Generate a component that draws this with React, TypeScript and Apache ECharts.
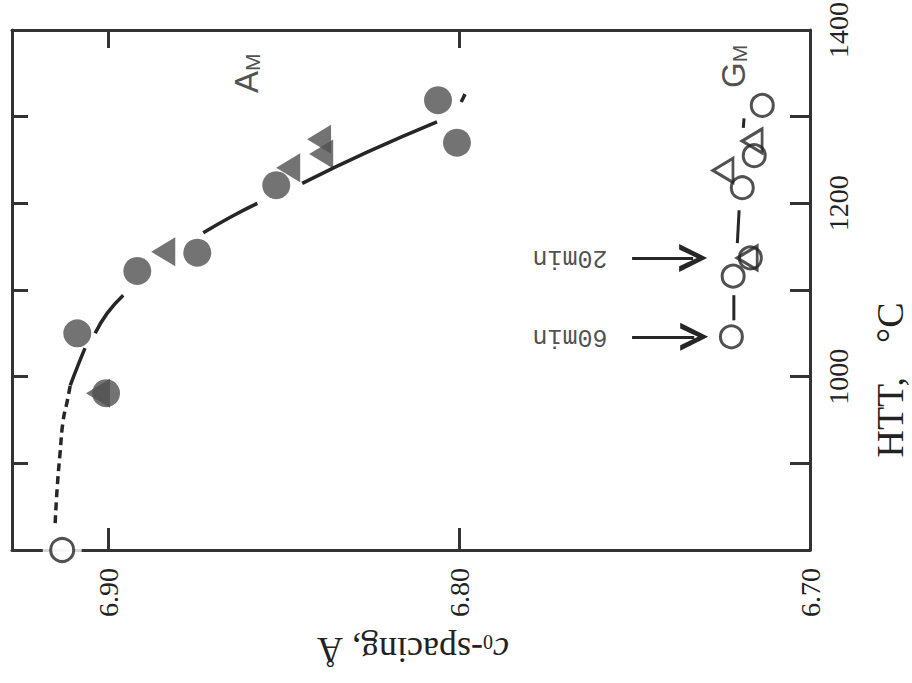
import React, { useEffect, useRef } from 'react';
import * as echarts from 'echarts';

// c0-spacing (Å) of the carbon samples against heat-treatment temperature (°C).
// AM: filled markers, GM: open markers.
const amCircleC0 = [6.9006, 6.9088, 6.8917, 6.8746, 6.8521, 6.8006, 6.806];
const amCircleHTT = [981, 1050, 1122, 1143, 1221, 1270, 1319];

const amTriangleC0 = [6.9029, 6.8843, 6.8487, 6.8399, 6.8393];
const amTriangleHTT = [981, 1144, 1241, 1274, 1257];

const startC0 = [6.9131];
const startHTT = [800];

const gmCircleC0 = [6.7224, 6.7219, 6.717, 6.7193, 6.7159, 6.7136];
const gmCircleHTT = [1046, 1116, 1137, 1218, 1255, 1313];

const gmTriangleC0 = [6.7179, 6.7248, 6.7165];
const gmTriangleHTT = [1137, 1238, 1272];

// hand-drawn trend lines through the AM and GM points
const amFitDashed = [
  [6.9151, 831], [6.9145, 873], [6.9137, 912], [6.9128, 950], [6.9117, 971], [6.9108, 990],
];
const amFitSolid = [
  [[6.9108, 990], [6.9086, 1013], [6.9066, 1033]],
  [[6.9037, 1050], [6.9003, 1073], [6.8957, 1094]],
  [[6.8729, 1166], [6.8652, 1184], [6.8575, 1200]],
  [[6.8447, 1223], [6.8262, 1259], [6.8063, 1294]],
  [[6.7994, 1317], [6.7983, 1326]],
];
const gmLinks = [
  [[6.7217, 1065], [6.7217, 1094]],
  [[6.7207, 1154], [6.7202, 1192]],
  [[6.719, 1287], [6.7188, 1298]],
];

// soak-time notes with their arrows
const noteText = ['60min', '20min'];
const noteC0 = [6.7684, 6.7684];
const noteHTT = [1046, 1137];
const arrowFromC0 = [6.7507, 6.7507];
const arrowToC0 = [6.733, 6.7333];

// group labels
const groupText = ['AM', 'GM'];
const groupC0 = [6.8604, 6.7216];
const groupHTT = [1350, 1358];

// axis ticks
const c0Labels = [6.7, 6.8, 6.9];
const c0Ticks = [6.8, 6.9];
const httLabels = [1000, 1200, 1400];
const httTicks = [900, 1000, 1100, 1200, 1300];

const INK = '#262626';
const FILL = '#505050';
const SERIF = 'Liberation Serif';
const SANS = 'Liberation Sans';

const pairs = (xs: number[], ys: number[]) => xs.map((x, i) => [x, ys[i]]);

export default function App() {
  const ref = useRef<HTMLDivElement>(null);

  useEffect(() => {
    if (!ref.current) return;
    const chart = echarts.init(ref.current, null, { renderer: 'svg' });

    const xBase = {
      type: 'value',
      min: 6.7,
      max: 6.9274,
      inverse: true,
      splitLine: { show: false },
      axisLine: { show: true, lineStyle: { color: '#333', width: 3 } },
    };
    const yBase = {
      type: 'value',
      min: 800,
      max: 1400,
      interval: 100,
      splitLine: { show: false },
      axisLine: { show: true, lineStyle: { color: '#333', width: 3 } },
    };

    const lineSeries: any[] = [];
    lineSeries.push({
      type: 'line',
      data: amFitDashed,
      showSymbol: false,
      smooth: true,
      silent: true,
      lineStyle: { color: INK, width: 3.5, type: [8, 5] },
    });
    amFitSolid.forEach((seg) =>
      lineSeries.push({
        type: 'line',
        data: seg,
        showSymbol: false,
        smooth: true,
        silent: true,
        lineStyle: { color: INK, width: 3.5 },
      })
    );
    gmLinks.forEach((seg) =>
      lineSeries.push({
        type: 'line',
        data: seg,
        showSymbol: false,
        silent: true,
        lineStyle: { color: INK, width: 3 },
      })
    );

    const chevron = 'path://M0,30 L15,0 L30,30 L24,30 L15,11 L6,30 Z';

    chart.setOption({
      animation: false,
      backgroundColor: '#fff',
      grid: { left: 12, right: 102, top: 30, bottom: 133, containLabel: false, outerBoundsMode: 'none' },
      xAxis: [
        {
          ...xBase,
          position: 'bottom',
          axisTick: { show: true, inside: true, length: 22, customValues: c0Ticks, lineStyle: { color: '#333', width: 3 } },
          axisLabel: {
            show: true,
            customValues: c0Labels,
            rotate: 90,
            margin: 18,
            color: '#222',
            fontFamily: SERIF,
            fontSize: 28,
            formatter: (v: number) => v.toFixed(2),
          },
        },
        {
          ...xBase,
          position: 'top',
          axisTick: { show: true, inside: true, length: 18, customValues: c0Ticks, lineStyle: { color: '#333', width: 3 } },
          axisLabel: { show: false },
        },
      ],
      yAxis: [
        {
          ...yBase,
          position: 'left',
          axisTick: { show: true, inside: true, length: 16, customValues: httTicks, lineStyle: { color: '#333', width: 3 } },
          axisLabel: { show: false },
        },
        {
          ...yBase,
          position: 'right',
          axisTick: { show: true, inside: true, length: 20, customValues: httTicks, lineStyle: { color: '#333', width: 3 } },
          axisLabel: {
            show: true,
            customValues: httLabels,
            rotate: 90,
            margin: 14,
            color: '#222',
            fontFamily: SERIF,
            fontSize: 28,
            formatter: (v: number) => String(v),
          },
        },
      ],
      series: [
        ...lineSeries,
        {
          // white halo where the first point sits on the axis
          type: 'scatter',
          data: pairs(startC0, startHTT),
          symbol: 'circle',
          symbolSize: 39,
          silent: true,
          clip: false,
          itemStyle: { color: '#fff' },
        },
        {
          type: 'scatter',
          name: 'start',
          data: pairs(startC0, startHTT),
          symbol: 'circle',
          symbolSize: 23,
          clip: false,
          itemStyle: { color: '#fff', borderColor: INK, borderWidth: 3 },
        },
        {
          type: 'scatter',
          name: 'AM triangles',
          data: pairs(amTriangleC0, amTriangleHTT),
          symbol: 'triangle',
          symbolRotate: 90,
          symbolSize: [29, 24],
          itemStyle: { color: FILL },
        },
        {
          type: 'scatter',
          name: 'AM circles',
          data: pairs(amCircleC0, amCircleHTT),
          symbol: 'circle',
          symbolSize: 28,
          itemStyle: { color: FILL },
        },
        {
          type: 'scatter',
          name: 'GM circles',
          data: pairs(gmCircleC0, gmCircleHTT),
          symbol: 'circle',
          symbolSize: 22,
          itemStyle: { color: '#fff', borderColor: INK, borderWidth: 3 },
        },
        {
          type: 'scatter',
          name: 'GM triangles',
          data: pairs(gmTriangleC0, gmTriangleHTT),
          symbol: 'triangle',
          symbolRotate: 90,
          symbolSize: [24, 20],
          itemStyle: { color: 'rgba(255,255,255,0)', borderColor: INK, borderWidth: 3 },
        },
        {
          type: 'scatter',
          name: 'notes',
          data: noteText.map((t, i) => ({ name: t, value: [noteC0[i], noteHTT[i]] })),
          symbolSize: 0,
          silent: true,
          label: {
            show: true,
            position: 'inside',
            rotate: 180,
            formatter: '{b}',
            color: '#222',
            fontFamily: 'Liberation Mono',
            fontSize: 25,
          },
          markLine: {
            silent: true,
            symbol: ['none', chevron],
            symbolSize: 28,
            label: { show: false },
            lineStyle: { color: INK, width: 3, type: 'solid' },
            itemStyle: { color: INK },
            data: noteHTT.map((h, i) => [
              { coord: [arrowFromC0[i], h] },
              { coord: [arrowToC0[i], h] },
            ]),
          },
        },
        {
          type: 'scatter',
          name: 'groups',
          data: groupText.map((t, i) => ({ name: t, value: [groupC0[i], groupHTT[i]] })),
          symbolSize: 0,
          silent: true,
          label: {
            show: true,
            position: 'inside',
            rotate: 90,
            formatter: (p: any) => `{a|${p.name[0]}}{b|${p.name.slice(1)}}`,
            rich: {
              a: { fontSize: 33, fontFamily: SANS, color: '#222', verticalAlign: 'bottom', lineHeight: 32 },
              b: { fontSize: 21, fontFamily: SANS, color: '#222', verticalAlign: 'bottom', lineHeight: 24 },
            },
          },
        },
      ],
      graphic: [
        {
          type: 'text',
          x: 890,
          y: 380,
          rotation: Math.PI / 2,
          silent: true,
          style: {
            text: '{a|HTT,}{b|°C}',
            align: 'center',
            verticalAlign: 'middle',
            rich: {
              a: { fontSize: 38, fontFamily: SERIF, fill: '#222' },
              b: { fontSize: 38, fontFamily: SERIF, fill: '#222', padding: [0, 0, 0, 34] },
            },
          },
        },
        {
          type: 'text',
          x: 413,
          y: 652,
          rotation: Math.PI,
          silent: true,
          style: {
            text: '{c|c}{s|0}{t|-spacing, Å}',
            align: 'center',
            verticalAlign: 'middle',
            rich: {
              c: { fontSize: 36, fontFamily: SERIF, fontStyle: 'italic', fill: '#222', verticalAlign: 'bottom', lineHeight: 40 },
              s: { fontSize: 20, fontFamily: SERIF, fill: '#222', verticalAlign: 'bottom', lineHeight: 20 },
              t: { fontSize: 36, fontFamily: SERIF, fill: '#222', verticalAlign: 'bottom', lineHeight: 40 },
            },
          },
        },
      ],
    });

    return () => chart.dispose();
  }, []);

  return (
    <div
      ref={ref}
      style={{ position: 'fixed', left: 0, top: 0, width: 912, height: 683, background: '#fff' }}
    />
  );
}
